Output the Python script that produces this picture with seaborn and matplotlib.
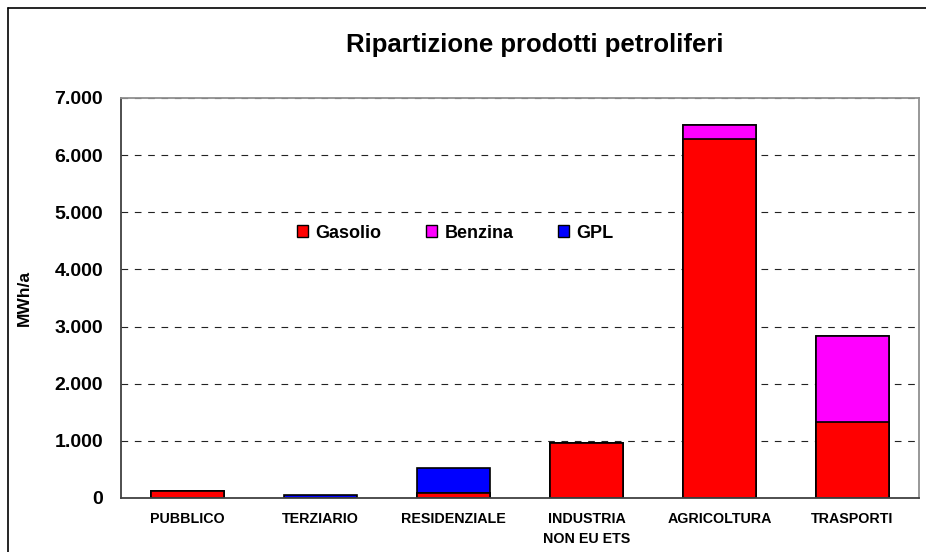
import seaborn as sns
import matplotlib.pyplot as plt
import numpy as np
from matplotlib.patches import Patch
from matplotlib.lines import Line2D
from matplotlib.ticker import FuncFormatter, MultipleLocator, FixedLocator

# data (MWh/a)
categories = ["PUBBLICO", "TERZIARIO", "RESIDENZIALE", "INDUSTRIA\nNON EU ETS", "AGRICOLTURA", "TRASPORTI"]
gasolio = np.array([120, 0, 80, 960, 6280, 1335])
benzina = np.array([0, 0, 0, 0, 250, 1495])
gpl = np.array([0, 55, 440, 0, 0, 0])
series_names = ["Gasolio", "Benzina", "GPL"]
series_colors = ["#ff0000", "#ff00ff", "#0000ff"]

sns.set_theme(style="white", rc={"text.color": "black", "axes.labelcolor": "black",
                                 "xtick.color": "black", "ytick.color": "black"})
plt.rcParams["font.family"] = ["Liberation Sans", "DejaVu Sans"]

fig = plt.figure(figsize=(9.26, 5.52), dpi=100)
ax = fig.add_axes([121 / 926, 1 - 498 / 552, 798 / 926, 400 / 552])

# stacked bars: draw cumulative totals from the top layer down
layers = [gasolio + benzina + gpl, gasolio + benzina, gasolio]
layer_colors = [series_colors[2], series_colors[1], series_colors[0]]
for vals, col in zip(layers, layer_colors):
    sns.barplot(x=categories, y=vals, color=col, saturation=1, width=0.55,
                edgecolor="black", linewidth=1.2, ax=ax, zorder=3)

ax.set_xlim(-0.5, 5.5)
ax.set_ylim(0, 7000)
ax.yaxis.set_major_locator(MultipleLocator(1000))
ax.yaxis.set_major_formatter(FuncFormatter(lambda v, p: f"{int(v):,}".replace(",", ".")))
for yv in range(1000, 7001, 1000):
    ax.axhline(yv, color="#222222", lw=0.8, ls=(0, (6, 6)), zorder=1)

ax.tick_params(axis="y", direction="out", length=6, width=1, color="#404040",
               labelcolor="black", labelsize=14, pad=7)
for t in ax.get_yticklabels():
    t.set_fontweight("bold")
ax.tick_params(axis="x", which="major", length=0, pad=10, labelsize=10.3, labelcolor="black")
ax.xaxis.set_minor_locator(FixedLocator([0.5, 1.5, 2.5, 3.5, 4.5]))
ax.tick_params(axis="x", which="minor", direction="out", length=5, width=1, color="#404040")
for t in ax.get_xticklabels():
    t.set_fontweight("bold")
    t.set_linespacing(1.6)

ax.set_ylabel("MWh/a", fontsize=12.5, fontweight="bold", color="black")
ax.set_xlabel("")
ax.yaxis.set_label_coords(-0.112, 0.5)

for side in ["left", "bottom"]:
    ax.spines[side].set_color("#404040")
    ax.spines[side].set_linewidth(1.3)
for side in ["top", "right"]:
    ax.spines[side].set_color("#909090")
    ax.spines[side].set_linewidth(1.3)
ax.spines["bottom"].set_zorder(4)

fig.text(535 / 926, 1 - 52 / 552, "Ripartizione prodotti petroliferi", ha="center", va="baseline",
         fontsize=18.5, fontweight="bold", color="black")

handles = [Patch(facecolor=c, edgecolor="black", linewidth=1) for c in series_colors]
leg = ax.legend(handles, series_names, ncol=3, frameon=False, loc="center left",
                bbox_to_anchor=((297 - 121) / 798, (498 - 233) / 400), bbox_transform=ax.transAxes,
                prop={"weight": "bold", "size": 13}, handlelength=0.6, handleheight=0.6,
                handletextpad=0.4, columnspacing=2.5, borderpad=0, borderaxespad=0)
for t in leg.get_texts():
    t.set_color("black")

# outer chart border (partly cut off on right and bottom)
fig.add_artist(Line2D([8 / 926, 8 / 926], [0, 1 - 8 / 552], color="black", lw=1.2))
fig.add_artist(Line2D([8 / 926, 1], [1 - 8 / 552, 1 - 8 / 552], color="black", lw=1.2))

fig.savefig("out.png", dpi=100)
